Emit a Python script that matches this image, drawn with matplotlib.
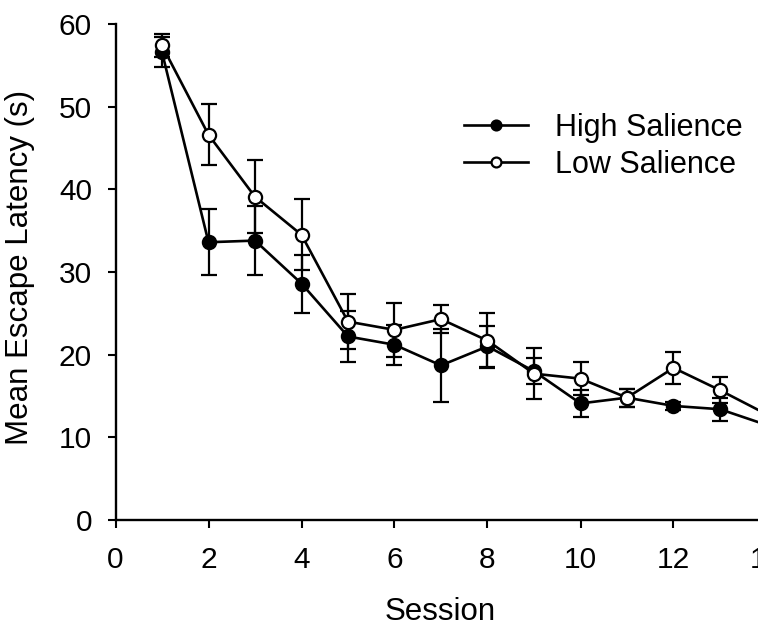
import matplotlib.pyplot as plt

plt.rcParams["font.family"] = ["Liberation Sans", "DejaVu Sans"]

# mean escape latency per session, with SEM
sessions = [1, 2, 3, 4, 5, 6, 7, 8, 9, 10, 11, 12, 13, 14]

high_mean = [56.6, 33.6, 33.8, 28.6, 22.2, 21.2, 18.7, 21.0, 18.0, 14.1, 14.8, 13.8, 13.4, 11.5]
high_sem = [1.8, 4.0, 4.2, 3.5, 3.1, 2.4, 4.4, 2.5, 1.6, 1.6, 1.1, 0.5, 1.4, 1.0]

low_mean = [57.4, 46.6, 39.1, 34.5, 24.0, 23.0, 24.3, 21.7, 17.7, 17.1, 14.8, 18.4, 15.7, 12.8]
low_sem = [1.4, 3.7, 4.4, 4.3, 3.3, 3.3, 1.7, 3.3, 3.1, 2.0, 1.1, 1.9, 1.6, 1.0]

x_ticks = [0, 2, 4, 6, 8, 10, 12, 14, 16]
y_ticks = [0, 10, 20, 30, 40, 50, 60]


def main():
    fig = plt.figure(figsize=(7.58, 6.30), dpi=100)
    # axes run past the right edge of the figure, so the last sessions are cut off
    ax_width_px = 16 * 46.5
    ax = fig.add_axes([115.5 / 758, 110 / 630, ax_width_px / 758, 496 / 630])

    common = dict(color="black", linewidth=1.9, markersize=9.5,
                  elinewidth=1.6, capsize=5.5, capthick=1.6,
                  markeredgewidth=1.6, markeredgecolor="black")

    ax.errorbar(sessions, high_mean, yerr=high_sem, marker="o",
                markerfacecolor="black", label="High Salience", zorder=3, **common)
    ax.errorbar(sessions, low_mean, yerr=low_sem, marker="o",
                markerfacecolor="white", label="Low Salience", zorder=4, **common)

    ax.set_xlim(0, 16)
    ax.set_ylim(0, 60)
    ax.set_xticks(x_ticks)
    ax.set_yticks(y_ticks)

    for side in ["top", "right"]:
        ax.spines[side].set_visible(False)
    for side in ["left", "bottom"]:
        ax.spines[side].set_linewidth(1.7)

    ax.tick_params(axis="both", direction="out", length=6, width=1.5, labelsize=21.5)
    ax.tick_params(axis="x", pad=13)
    ax.tick_params(axis="y", pad=11)

    ax.set_xlabel("Session", fontsize=22.5)
    ax.set_ylabel("Mean Escape Latency (s)", fontsize=22.5)
    # label positions in axes fractions, from pixel positions
    ax.xaxis.set_label_coords((440 - 115.5) / ax_width_px, -0.155)
    ax.yaxis.set_label_coords(-(115.5 - 35) / ax_width_px, 0.51)

    handles, labels = ax.get_legend_handles_labels()
    handles = [h[0] for h in handles]
    fig.legend(handles, labels, loc="upper left", bbox_to_anchor=(436 / 758, 1 - 85 / 630),
               frameon=False, fontsize=22, handlelength=2.1, handletextpad=0.9,
               labelspacing=0.25, markerscale=0.75)

    fig.savefig("out.png", dpi=100)
    plt.close(fig)


if __name__ == "__main__":
    main()
